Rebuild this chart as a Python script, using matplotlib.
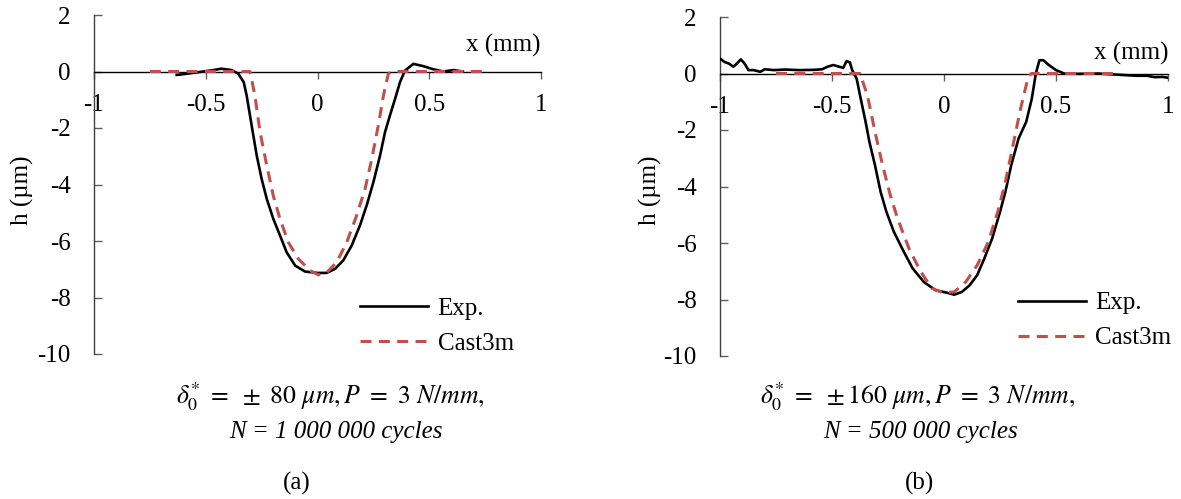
import matplotlib
matplotlib.use("Agg")
import matplotlib.pyplot as plt

plt.rcParams['font.family'] = ['Liberation Serif', 'DejaVu Serif']
plt.rcParams['mathtext.fontset'] = 'stix'

# ---------------- data ----------------
# Panel (a)
exp_a_x = [-0.63, -0.615, -0.556, -0.466, -0.43, -0.384, -0.354, -0.33, -0.317, -0.302,
           -0.287, -0.272, -0.25, -0.227, -0.198, -0.168, -0.138, -0.10, -0.056, 0.0,
           0.041, 0.078, 0.115, 0.153, 0.19, 0.22, 0.25, 0.28, 0.302, 0.324, 0.347,
           0.369, 0.391, 0.429, 0.473, 0.518, 0.563, 0.608, 0.65]
exp_a_y = [-0.12, -0.11, -0.05, 0.05, 0.1, 0.05, -0.08, -0.38, -0.85, -1.56,
           -2.27, -2.97, -3.8, -4.51, -5.21, -5.8, -6.4, -6.87, -7.08, -7.13,
           -7.13, -6.99, -6.69, -6.16, -5.45, -4.74, -3.92, -2.97, -2.15, -1.56, -0.97,
           -0.38, 0.03, 0.27, 0.19, 0.08, 0.0, 0.05, 0.0]
cast_a_x = [-0.75, -0.302, -0.28, -0.257, -0.227, -0.198, -0.168, -0.131, -0.086, -0.034,
            0.004, 0.041, 0.086, 0.131, 0.175, 0.213, 0.243, 0.272, 0.295, 0.317, 0.332, 0.76]
cast_a_y = [0.0, 0.0, -0.85, -2.15, -3.33, -4.39, -5.21, -6.04, -6.63, -7.04,
            -7.2, -7.12, -6.75, -6.04, -5.1, -4.15, -3.09, -1.91, -0.85, -0.08, 0.0, 0.0]

# Panel (b)
exp_b_x = [-1.0, -0.98, -0.96, -0.94, -0.925, -0.907, -0.89, -0.873, -0.85, -0.82, -0.8,
           -0.76, -0.71, -0.645, -0.578, -0.544, -0.52, -0.494, -0.468, -0.45, -0.435,
           -0.42, -0.41, -0.39, -0.375, -0.35, -0.333, -0.308, -0.283, -0.257, -0.224,
           -0.18, -0.14, -0.09, -0.038, 0.013, 0.046, 0.08, 0.114, 0.148, 0.18, 0.215,
           0.25, 0.274, 0.30, 0.333, 0.367, 0.392, 0.41, 0.426, 0.443, 0.468, 0.50,
           0.536, 0.60, 0.69, 0.77, 0.857, 0.907, 0.94, 0.975, 1.0]
exp_b_y = [0.53, 0.41, 0.35, 0.24, 0.35, 0.5, 0.35, 0.12, 0.12, 0.06, 0.15,
           0.12, 0.14, 0.12, 0.13, 0.15, 0.24, 0.3, 0.24, 0.2, 0.44,
           0.39, 0.12, -0.18, -0.77, -1.71, -2.42, -3.25, -4.19, -4.9, -5.6,
           -6.3, -6.9, -7.38, -7.67, -7.76, -7.83, -7.73, -7.5, -7.14, -6.55, -5.84,
           -4.9, -4.19, -3.25, -2.3, -1.71, -0.89, 0.0, 0.47, 0.47, 0.3, 0.12,
           0.0, -0.01, 0.0, -0.04, -0.08, -0.08, -0.13, -0.12, -0.15]
cast_b_x = [-0.75, -0.375, -0.342, -0.308, -0.274, -0.24, -0.207, -0.156, -0.105,
            -0.055, -0.004, 0.046, 0.097, 0.148, 0.198, 0.24, 0.274, 0.308, 0.342,
            0.376, 0.39, 0.77]
cast_b_y = [0.0, 0.0, -0.77, -2.07, -3.25, -4.3, -5.14, -6.2, -7.0,
            -7.6, -7.76, -7.73, -7.38, -6.79, -5.96, -4.9, -3.84, -2.54, -1.24,
            -0.12, 0.0, 0.0]

x_ticks = [-1, -0.5, 0, 0.5, 1]
x_tick_labels = ['-1', '-0.5', '0', '0.5', '1']
y_ticks = [2, 0, -2, -4, -6, -8, -10]
legend_labels = ['Exp.', 'Cast3m']
captions = [(r'$\delta_0^{*}\ =\ \pm\ 80\ \mu m,P\ =\ 3\ N/mm,$', 'N = 1 000 000 cycles', '(a)'),
            (r'$\delta_0^{*}\ =\ \pm160\ \mu m,P\ =\ 3\ N/mm,$', 'N = 500 000 cycles', '(b)')]

RED = '#C0504D'
W, H = 1181, 499
fig = plt.figure(figsize=(W / 100, H / 100), dpi=100)

boxes = [(94, 541, 15, 354), (720, 1168, 17, 356)]
series = [(exp_a_x, exp_a_y, cast_a_x, cast_a_y), (exp_b_x, exp_b_y, cast_b_x, cast_b_y)]
xlabel_y = [0.92, 0.72]
ylabel_x = [22, 650]
leg_anchor = [(360, 297), (1018, 292)]
cap_cx = [330, 918]
cap_cx2 = [336, 921]
sub_cx = [297, 919]
FS = 18

for i, (l, r, t, b) in enumerate(boxes):
    ax = fig.add_axes([l / W, 1 - b / H, (r - l) / W, (b - t) / H])
    ex, ey, cx, cy = series[i]
    ax.plot(ex, ey, color='black', lw=1.9, label=legend_labels[0], zorder=3)
    ax.plot(cx, cy, color=RED, lw=2.2, ls=(0, (3.6, 2.4)), label=legend_labels[1], zorder=4)
    ax.set_xlim(-1, 1)
    ax.set_ylim(-10, 2)
    for s in ['top', 'right']:
        ax.spines[s].set_visible(False)
    ax.spines['bottom'].set_position(('data', 0))
    ax.spines['bottom'].set_color('black')
    ax.spines['bottom'].set_linewidth(1.0)
    ax.spines['left'].set_color('#404040')
    ax.spines['left'].set_linewidth(1.0)
    ax.set_xticks(x_ticks)
    ax.set_xticklabels(x_tick_labels)
    ax.set_yticks(y_ticks)
    ax.set_yticklabels([str(v) for v in y_ticks])
    ax.tick_params(axis='x', direction='out', length=5, width=1, pad=11, labelsize=FS,
                   color='#606060')
    ax.tick_params(axis='y', direction='in', length=6, width=1, pad=17, labelsize=FS,
                   color='#606060')
    ax.patch.set_alpha(0)
    ax.text(1.0, xlabel_y[i], 'x (mm)', ha='right', va='center', fontsize=FS)
    fig.text(ylabel_x[i] / W, 1 - 190 / H, 'h (µm)', rotation=90, ha='center',
             va='center', fontsize=FS)
    lx, ly = leg_anchor[i]
    ax.legend(loc='upper left', frameon=False, fontsize=FS, handlelength=2.7,
              handletextpad=0.4, labelspacing=0.5, borderpad=0, borderaxespad=0,
              bbox_to_anchor=(lx / W, 1 - ly / H), bbox_transform=fig.transFigure)
    c1, c2, c3 = captions[i]
    fig.text(cap_cx[i] / W, 1 - 397 / H, c1, ha='center', va='center', fontsize=18.5)
    fig.text(cap_cx2[i] / W, 1 - 432 / H, c2, ha='center', va='center', fontsize=FS,
             style='italic')
    fig.text(sub_cx[i] / W, 1 - 483 / H, c3, ha='center', va='center', fontsize=FS)

fig.savefig('out.png', dpi=100)
